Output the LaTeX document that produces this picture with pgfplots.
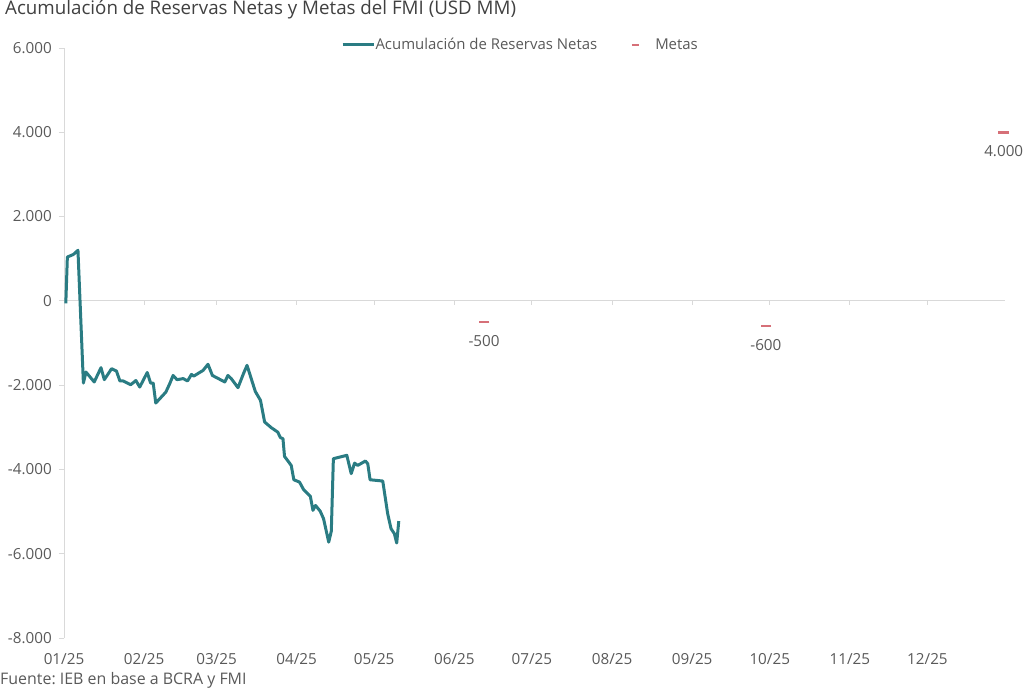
\documentclass[border=0pt]{standalone}
\usepackage{pgfplots}
\pgfplotsset{compat=1.18}
\usepackage{fontspec}
\setmainfont{Open Sans}
\frenchspacing
\definecolor{teal1}{RGB}{42,124,131}
\definecolor{metas}{RGB}{214,112,120}
\definecolor{txt}{RGB}{89,89,89}
\definecolor{ttl}{RGB}{64,64,64}
\definecolor{axgray}{RGB}{217,217,217}
\begin{document}
\begin{tikzpicture}
\path[use as bounding box] (-64bp,-50bp) rectangle (961bp,638bp);
\begin{axis}[
  at={(0,0)}, anchor=south west,
  scale only axis, width=941bp, height=590bp,
  xmin=0, xmax=364, ymin=-8000, ymax=6000,
  clip=false,
  axis x line*=bottom, axis y line*=left,
  x axis line style={draw=none},
  y axis line style={draw=axgray, line width=1bp, -},
  xtick={0,31,59,90,120,151,181,212,243,273,304,334},
  xticklabels={01/25,02/25,03/25,04/25,05/25,06/25,07/25,08/25,09/25,10/25,11/25,12/25},
  x tick style={draw=none},
  ytick={-8000,-6000,-4000,-2000,0,2000,4000,6000},
  y tick style={draw=axgray, line width=1bp},
  tick align=outside, major tick length=5bp,
  scaled y ticks=false,
  ticklabel style={font=\fontsize{15.3}{15.3}\selectfont, text=txt},
  xticklabel style={anchor=base, yshift=-21bp},
  yticklabel style={anchor=east, inner sep=0pt, xshift=-7bp},
  /pgf/number format/.cd, assume math mode=true, 1000 sep={.},
  /pgfplots/.cd,
  legend columns=2,
  legend cell align=left,
  legend style={at={(0.2944,1.0051)}, anchor=west, draw=none, fill=none,
    inner sep=0pt, outer sep=0pt, font=\fontsize{15}{15}\selectfont, text=txt,
    nodes={inner sep=0.5bp},
    /tikz/every even column/.append style={column sep=33bp}},
]
\addplot[axgray, line width=1bp, forget plot] coordinates {(0,0) (364,0)};
\addplot[ycomb, axgray, line width=1bp, forget plot] coordinates {
(31,-110) (59,-110) (90,-110) (120,-110) (151,-110) (181,-110) (212,-110) (243,-110) (273,-110) (304,-110) (334,-110)};
\addplot[teal1, line width=3bp, line join=round,
  legend image code/.code={\draw[teal1, line width=3bp] (0bp,0bp) -- (31bp,0bp);}] coordinates {
(0.7,-60) (1.3,1040) (3.6,1100) (5.4,1200) (7.5,-1950) (8.5,-1690) (11.7,-1925) (14.3,-1585) (15.6,-1870) (18.4,-1610) (20.3,-1665) (21.6,-1900) (22.9,-1900) (25.8,-1990) (27.8,-1890) (29.3,-2045) (32.2,-1700) (33.5,-1950) (34.5,-1950) (35.5,-2425) (39.4,-2165) (40.9,-1965) (42.2,-1770) (43.7,-1870) (46.1,-1845) (47.8,-1900) (49.3,-1745) (50.2,-1785) (53.8,-1650) (55.7,-1505) (57.4,-1770) (62.2,-1925) (63.4,-1770) (64.7,-1845) (67.3,-2060) (69.5,-1715) (70.8,-1530) (74,-2150) (76,-2360) (77.6,-2875) (80.2,-3010) (82.7,-3115) (83.7,-3245) (84.7,-3270) (85.3,-3690) (87.9,-3905) (88.9,-4245) (91.1,-4300) (92.7,-4480) (95.3,-4640) (96.3,-4970) (97.3,-4855) (99.1,-4990) (100.4,-5170) (102.4,-5725) (103.4,-5465) (104.2,-3745) (109.4,-3665) (111.1,-4100) (112.4,-3850) (113.6,-3905) (116.6,-3800) (117.5,-3865) (118.4,-4245) (123.3,-4275) (125.2,-5050) (126.5,-5405) (127.8,-5525) (128.7,-5745) (129.5,-5225)};
\addlegendentry{Acumulación de Reservas Netas}
\addplot[only marks, mark=-, mark size=5.3bp, metas, mark options={line width=2.5bp},
  nodes near coords, point meta=explicit symbolic,
  every node near coord/.append style={anchor=center, yshift=-19bp, font=\fontsize{15.3}{15.3}\selectfont, text=txt},
  legend image code/.code={\draw[metas, line width=2bp] (0bp,0bp) -- (7bp,0bp); \path[draw=none, fill=none] (0bp,0bp) -- (23bp,0bp);}]
  table[meta=label] {
x y label
162.5 -500 -500
271.5 -600 -600
363.5 4000 4.000
};
\addlegendentry{Metas}
\end{axis}
\node[anchor=base west, font=\fontsize{18.8}{20}\selectfont, text=ttl, inner sep=0pt] at (-59bp,623bp) {Acumulación de Reservas Netas y Metas del FMI (USD MM)};
\node[anchor=base west, font=\fontsize{16}{16}\selectfont, text=txt, inner sep=0pt] at (-64bp,-46bp) {Fuente: IEB en base a BCRA y FMI};
\end{tikzpicture}
\end{document}
